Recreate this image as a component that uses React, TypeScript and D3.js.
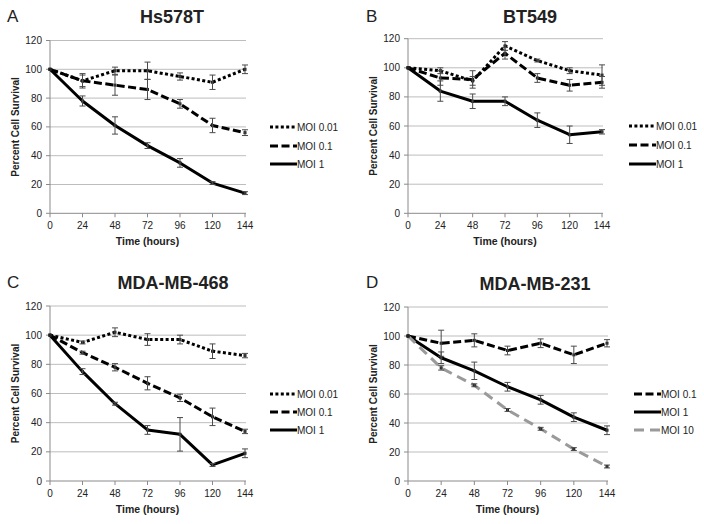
import React from "react";
import * as d3 from "d3";

// ---- data ----
const times = [0, 24, 48, 72, 96, 120, 144];
const yTicks = [0, 20, 40, 60, 80, 100, 120];

const panelLetters = ["A", "B", "C", "D"];
const panelTitles = ["Hs578T", "BT549", "MDA-MB-468", "MDA-MB-231"];

// A: Hs578T
const hsMoi001 = [100, 92, 99, 99, 95, 91, 100];
const hsMoi001Err = [0, 5, 2.5, 6, 2.5, 5, 3];
const hsMoi01 = [100, 92, 89, 86, 76, 61, 56];
const hsMoi01Err = [0, 4, 7, 7, 3, 5, 2];
const hsMoi1 = [100, 78, 61, 47, 35, 21, 14];
const hsMoi1Err = [0, 3.5, 6, 2, 3, 1, 1];

// B: BT549
const btMoi001 = [100, 98, 91, 115, 105, 98, 95];
const btMoi001Err = [0, 2, 3, 3, 1, 2, 7];
const btMoi01 = [100, 93, 92, 110, 93, 88, 90];
const btMoi01Err = [0, 5, 6, 4, 3, 4, 4];
const btMoi1 = [100, 84, 77, 77, 64, 54, 56];
const btMoi1Err = [0, 7, 5, 3, 5, 6, 1.5];

// C: MDA-MB-468
const m468Moi001 = [100, 95, 102, 97, 97, 89, 86];
const m468Moi001Err = [0, 1, 3, 4, 3, 5, 1.5];
const m468Moi01 = [100, 88, 78, 67, 57, 44, 34];
const m468Moi01Err = [0, 1, 2.5, 4.5, 2.5, 6, 1.5];
const m468Moi1 = [100, 75, 53, 35, 32, 11, 19];
const m468Moi1Err = [0, 2, 1, 3, 11.5, 1, 3];

// D: MDA-MB-231
const m231Moi01 = [100, 95, 97, 90, 95, 87, 95];
const m231Moi01Err = [0, 9, 4.5, 3, 3, 6, 2.5];
const m231Moi1 = [100, 85, 76, 65, 56, 44, 35];
const m231Moi1Err = [0, 4, 6, 3, 3, 3, 3];
const m231Moi10 = [100, 78, 66, 49, 36, 22, 10];
const m231Moi10Err = [0, 1.5, 1, 1, 1, 1, 1];

// ---- styles ----
type Style = { color: string; dash: string | null; width: number };
const STY: Record<string, Style> = {
  dotted: { color: "#000", dash: "3,2.4", width: 3 },
  dashed: { color: "#000", dash: "8,3.5", width: 3 },
  solid: { color: "#000", dash: null, width: 3 },
  gray: { color: "#9a9a9a", dash: "10,6", width: 3 },
};

type Series = { name: string; values: number[]; err: number[]; style: string };

const panelSeries: Series[][] = [
  [
    { name: "MOI 0.01", values: hsMoi001, err: hsMoi001Err, style: "dotted" },
    { name: "MOI 0.1", values: hsMoi01, err: hsMoi01Err, style: "dashed" },
    { name: "MOI 1", values: hsMoi1, err: hsMoi1Err, style: "solid" },
  ],
  [
    { name: "MOI 0.01", values: btMoi001, err: btMoi001Err, style: "dotted" },
    { name: "MOI 0.1", values: btMoi01, err: btMoi01Err, style: "dashed" },
    { name: "MOI 1", values: btMoi1, err: btMoi1Err, style: "solid" },
  ],
  [
    { name: "MOI 0.01", values: m468Moi001, err: m468Moi001Err, style: "dotted" },
    { name: "MOI 0.1", values: m468Moi01, err: m468Moi01Err, style: "dashed" },
    { name: "MOI 1", values: m468Moi1, err: m468Moi1Err, style: "solid" },
  ],
  [
    { name: "MOI 0.1", values: m231Moi01, err: m231Moi01Err, style: "dashed" },
    { name: "MOI 1", values: m231Moi1, err: m231Moi1Err, style: "solid" },
    { name: "MOI 10", values: m231Moi10, err: m231Moi10Err, style: "gray" },
  ],
];

// layout of each panel (pixel geometry)
const layouts = [
  { x0: 50, x1: 245, yTop: 40.5, yBot: 213.3, titleX: 172, titleY: 23, letterX: 7, letterY: 22, legLine: 270, legY: [127, 146, 164] },
  { x0: 408, x1: 602, yTop: 38.7, yBot: 213.3, titleX: 530, titleY: 23, letterX: 366, letterY: 22, legLine: 629, legY: [126, 145, 164] },
  { x0: 50, x1: 245, yTop: 306, yBot: 481, titleX: 173, titleY: 289, letterX: 7, letterY: 288, legLine: 270, legY: [394, 412, 430] },
  { x0: 408, x1: 607, yTop: 307, yBot: 481, titleX: 535, titleY: 290, letterX: 366, letterY: 288, legLine: 634, legY: [394, 412, 430] },
];

const FONT = "Liberation Sans, Arial, sans-serif";
const TXT = "#222";
const GRID = "#bdbdbd";
const AXIS = "#8a8a8a";

function Panel({ idx }: { idx: number }) {
  const L = layouts[idx];
  const series = panelSeries[idx];
  const x = d3.scaleLinear().domain([0, 144]).range([L.x0, L.x1]);
  const y = d3.scaleLinear().domain([0, 120]).range([L.yBot, L.yTop]);
  const line = d3
    .line<number>()
    .x((_, i) => x(times[i]))
    .y((v) => y(v));
  const capW = 3;
  return (
    <g>
      <text x={L.letterX} y={L.letterY} fontFamily={FONT} fontSize={17} fill={TXT}>
        {panelLetters[idx]}
      </text>
      <text x={L.titleX} y={L.titleY} fontFamily={FONT} fontSize={18} fontWeight="bold" textAnchor="middle" fill={TXT}>
        {panelTitles[idx]}
      </text>
      {/* grid */}
      {yTicks.filter((t) => t > 0).map((t) => (
        <line key={t} x1={L.x0} x2={L.x1 + 1} y1={y(t)} y2={y(t)} stroke={GRID} strokeWidth={1} />
      ))}
      {/* axes */}
      <line x1={L.x0} x2={L.x0} y1={L.yTop} y2={L.yBot} stroke={AXIS} strokeWidth={1} />
      <line x1={L.x0} x2={L.x1 + 1} y1={L.yBot} y2={L.yBot} stroke={AXIS} strokeWidth={1} />
      {yTicks.map((t) => (
        <g key={"yt" + t}>
          <line x1={L.x0 - 4} x2={L.x0} y1={y(t)} y2={y(t)} stroke={AXIS} />
          <text x={L.x0 - 8} y={y(t) + 3.5} textAnchor="end" fontFamily={FONT} fontSize={10} fill={TXT}>
            {t}
          </text>
        </g>
      ))}
      {times.map((t) => (
        <g key={"xt" + t}>
          <line x1={x(t)} x2={x(t)} y1={L.yBot} y2={L.yBot + 4} stroke={AXIS} />
          <text x={x(t)} y={L.yBot + 16} textAnchor="middle" fontFamily={FONT} fontSize={10} fill={TXT}>
            {t}
          </text>
        </g>
      ))}
      <text x={(L.x0 + L.x1) / 2} y={L.yBot + 32} textAnchor="middle" fontFamily={FONT} fontSize={10.5} fontWeight="bold" fill={TXT}>
        Time (hours)
      </text>
      <text
        transform={`translate(${L.x0 - 31},${(L.yTop + L.yBot) / 2}) rotate(-90)`}
        textAnchor="middle"
        fontFamily={FONT}
        fontSize={10}
        fontWeight="bold"
        fill={TXT}
      >
        Percent Cell Survival
      </text>
      {/* series lines */}
      {series.map((s, si) => {
        const st = STY[s.style];
        return (
          <path
            key={"l" + si}
            d={line(s.values) || ""}
            fill="none"
            stroke={st.color}
            strokeWidth={st.width}
            strokeDasharray={st.dash || undefined}
            strokeLinejoin="round"
          />
        );
      })}
      {/* markers and error bars */}
      {series.map((s, si) =>
        s.values.map((v, i) => {
          const cx = x(times[i]);
          const e = s.err[i];
          return (
            <g key={"e" + si + "-" + i}>
              <rect x={cx - 1.5} y={y(v) - 1.5} width={3} height={3} fill="#222" />
              {e > 0 && (
                <g stroke="#4a4a4a" strokeWidth={1}>
                  <line x1={cx} x2={cx} y1={y(v + e)} y2={y(v - e)} />
                  <line x1={cx - capW} x2={cx + capW} y1={y(v + e)} y2={y(v + e)} />
                  <line x1={cx - capW} x2={cx + capW} y1={y(v - e)} y2={y(v - e)} />
                </g>
              )}
            </g>
          );
        })
      )}
      {/* legend */}
      {series.map((s, si) => {
        const st = STY[s.style];
        const ly = L.legY[si];
        return (
          <g key={"lg" + si}>
            <line
              x1={L.legLine}
              x2={L.legLine + 27}
              y1={ly}
              y2={ly}
              stroke={st.color}
              strokeWidth={st.width}
              strokeDasharray={st.dash || undefined}
            />
            <text x={L.legLine + 27} y={ly + 3.5} fontFamily={FONT} fontSize={10} fill={TXT}>
              {s.name}
            </text>
          </g>
        );
      })}
    </g>
  );
}

export default function App() {
  return (
    <svg width={704} height={524} style={{ position: "absolute", left: 0, top: 0, background: "#fff" }}>
      <rect x={0} y={0} width={704} height={524} fill="#fff" />
      {[0, 1, 2, 3].map((i) => (
        <Panel key={i} idx={i} />
      ))}
    </svg>
  );
}
